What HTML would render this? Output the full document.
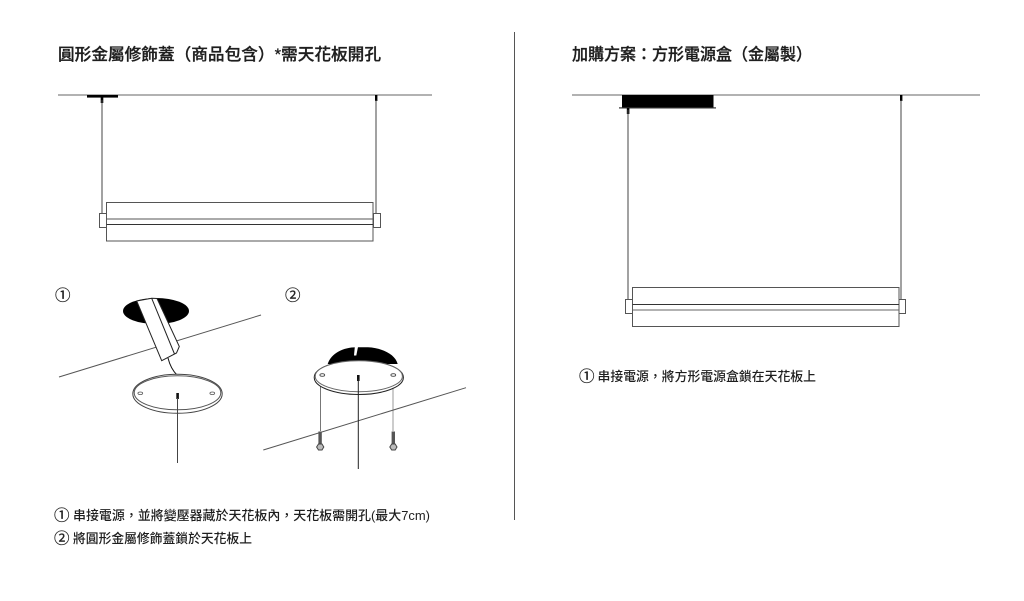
<!DOCTYPE html>
<html lang="zh-Hant">
<head>
<meta charset="utf-8">
<style>
html,body{margin:0;padding:0;background:#fff;width:1024px;height:601px;overflow:hidden}
svg{display:block}
text{font-family:"Liberation Sans","Noto Sans CJK TC",sans-serif;fill:#222}
.t{font-size:16.5px;font-weight:500;fill:#1e1e1e;stroke:#1e1e1e;stroke-width:.28px}
.s{font-size:12.8px;font-weight:500;fill:#1e1e1e}
.n{font-size:15.5px;font-weight:400;fill:#222;stroke:#222;stroke-width:.3px}
.l{stroke:#444;stroke-width:1;fill:none}
.lamp{stroke:#555;stroke-width:1;fill:#fff}
</style>
</head>
<body>
<svg width="1024" height="601" viewBox="0 0 1024 601" xmlns="http://www.w3.org/2000/svg">
<rect width="1024" height="601" fill="#fff"/>

<text class="t" x="58" y="60" textLength="323" lengthAdjust="spacingAndGlyphs">圓形金屬修飾蓋（商品包含）*需天花板開孔</text>
<text class="t" x="572" y="60" textLength="240" lengthAdjust="spacingAndGlyphs">加購方案：方形電源盒（金屬製）</text>

<line x1="514.5" y1="32" x2="514.5" y2="520" stroke="#555" stroke-width="1"/>

<!-- left ceiling -->
<line x1="58" y1="95" x2="432" y2="95" stroke="#666" stroke-width="1"/>
<rect x="87" y="95" width="31" height="2.6" fill="#000"/>
<rect x="100.7" y="97" width="2.6" height="6" fill="#000"/>
<line x1="102" y1="100" x2="102" y2="213" class="l"/>
<rect x="375" y="95" width="2.4" height="6" fill="#000"/>
<line x1="376" y1="100" x2="376" y2="213" class="l"/>
<rect class="lamp" x="99.5" y="213.5" width="7" height="14"/>
<rect class="lamp" x="373.5" y="213.5" width="7" height="14"/>
<rect class="lamp" x="106.5" y="202.5" width="266.5" height="38.5"/>
<line x1="106.5" y1="219" x2="373" y2="219" stroke="#555"/>
<line x1="106.5" y1="224.5" x2="373" y2="224.5" stroke="#333"/>

<!-- right ceiling -->
<line x1="572" y1="95" x2="980" y2="95" stroke="#666" stroke-width="1"/>
<rect x="622" y="95" width="91.5" height="12.8" fill="#000"/>
<rect x="619" y="107.3" width="97" height="1.2" fill="#333"/>
<rect x="626.8" y="108" width="2.6" height="6" fill="#000"/>
<line x1="628" y1="110" x2="628" y2="299" class="l"/>
<rect x="900" y="95" width="2.4" height="6" fill="#000"/>
<line x1="901" y1="100" x2="901" y2="299" class="l"/>
<rect class="lamp" x="625.5" y="299.5" width="7" height="14"/>
<rect class="lamp" x="898.5" y="299.5" width="7" height="14"/>
<rect class="lamp" x="632.5" y="287.5" width="266.5" height="39"/>
<line x1="632.5" y1="304.5" x2="899" y2="304.5" stroke="#333"/>
<line x1="632.5" y1="310" x2="899" y2="310" stroke="#666"/>

<!-- diagram 1 -->
<text class="n" x="55" y="300.5">①</text>
<ellipse cx="156" cy="311" rx="33" ry="13" fill="#000"/>
<line x1="59" y1="377" x2="261" y2="315" stroke="#555" stroke-width="1"/>
<polygon points="136.7,301 151.7,298.3 157,298.5 179.3,346.5 176.5,353 161.7,360.7" fill="#fff" stroke="#222" stroke-width="1"/>
<line x1="151.7" y1="298.3" x2="174.5" y2="354" stroke="#222" stroke-width="1"/>
<path d="M168 358 C170 366 173 371 177 375" fill="none" stroke="#111" stroke-width="1"/>
<ellipse cx="177.5" cy="393.8" rx="44.7" ry="19.5" fill="#fff" stroke="#444" stroke-width="1"/>
<ellipse cx="177.5" cy="392.8" rx="43.3" ry="17" fill="#fff" stroke="#555" stroke-width="1"/>
<ellipse cx="140.3" cy="393.3" rx="2.4" ry="1.3" fill="#fff" stroke="#555" stroke-width="0.8"/>
<ellipse cx="212.3" cy="393.3" rx="2.4" ry="1.3" fill="#fff" stroke="#555" stroke-width="0.8"/>
<rect x="176.3" y="393" width="2.6" height="6" fill="#111"/>
<line x1="177.5" y1="398" x2="177.5" y2="463" stroke="#444" stroke-width="1"/>

<!-- diagram 2 -->
<text class="n" x="285" y="300.5">②</text>
<path d="M327.7 364 C331 353 344 347.3 356 347.3 L368 347.3 C382 348 395 354 397.7 364 Z" fill="#000"/>
<path d="M354.8 347 L358 347 L356.3 355.5 L354 355.5 Z" fill="#fff"/>
<line x1="320.5" y1="385" x2="320.5" y2="431" stroke="#777" stroke-width="1"/>
<line x1="393" y1="385" x2="393" y2="431" stroke="#999" stroke-width="1"/>
<ellipse cx="358.8" cy="377.5" rx="44.6" ry="17" fill="#fff" stroke="#222" stroke-width="1"/>
<ellipse cx="358.8" cy="376.2" rx="43.6" ry="15.5" fill="#fff" stroke="#666" stroke-width="1"/>
<ellipse cx="322.3" cy="375" rx="2.4" ry="1.3" fill="#fff" stroke="#444" stroke-width="0.9"/>
<ellipse cx="393.3" cy="375" rx="2.4" ry="1.3" fill="#fff" stroke="#444" stroke-width="0.9"/>
<line x1="263.3" y1="450" x2="466" y2="387.7" stroke="#555" stroke-width="1"/>
<rect x="357" y="375" width="2.6" height="6" fill="#111"/>
<line x1="358.3" y1="379" x2="358.3" y2="469" stroke="#222" stroke-width="1"/>
<rect x="318.4" y="431.5" width="3.4" height="14" fill="#555"/>
<polygon points="316.6,447 318.5,444 322,444 323.8,447 322,450 318.5,450" fill="#bbb" stroke="#444" stroke-width="1"/>
<rect x="391.6" y="431.5" width="3.4" height="14" fill="#555"/>
<polygon points="389.8,447 391.7,444 395.2,444 397,447 395.2,450 391.7,450" fill="#bbb" stroke="#444" stroke-width="1"/>

<!-- captions -->
<text class="n" x="54" y="520.5">①</text>
<text class="s" x="73" y="520" textLength="357" lengthAdjust="spacingAndGlyphs">串接電源，並將變壓器藏於天花板內，天花板需開孔(最大7cm)</text>
<text class="n" x="54" y="543.5">②</text>
<text class="s" x="73" y="543" textLength="179" lengthAdjust="spacingAndGlyphs">將圓形金屬修飾蓋鎖於天花板上</text>
<text class="n" x="579" y="381.5">①</text>
<text class="s" x="597.5" y="381" textLength="218.5" lengthAdjust="spacingAndGlyphs">串接電源，將方形電源盒鎖在天花板上</text>
</svg>
</body>
</html>
